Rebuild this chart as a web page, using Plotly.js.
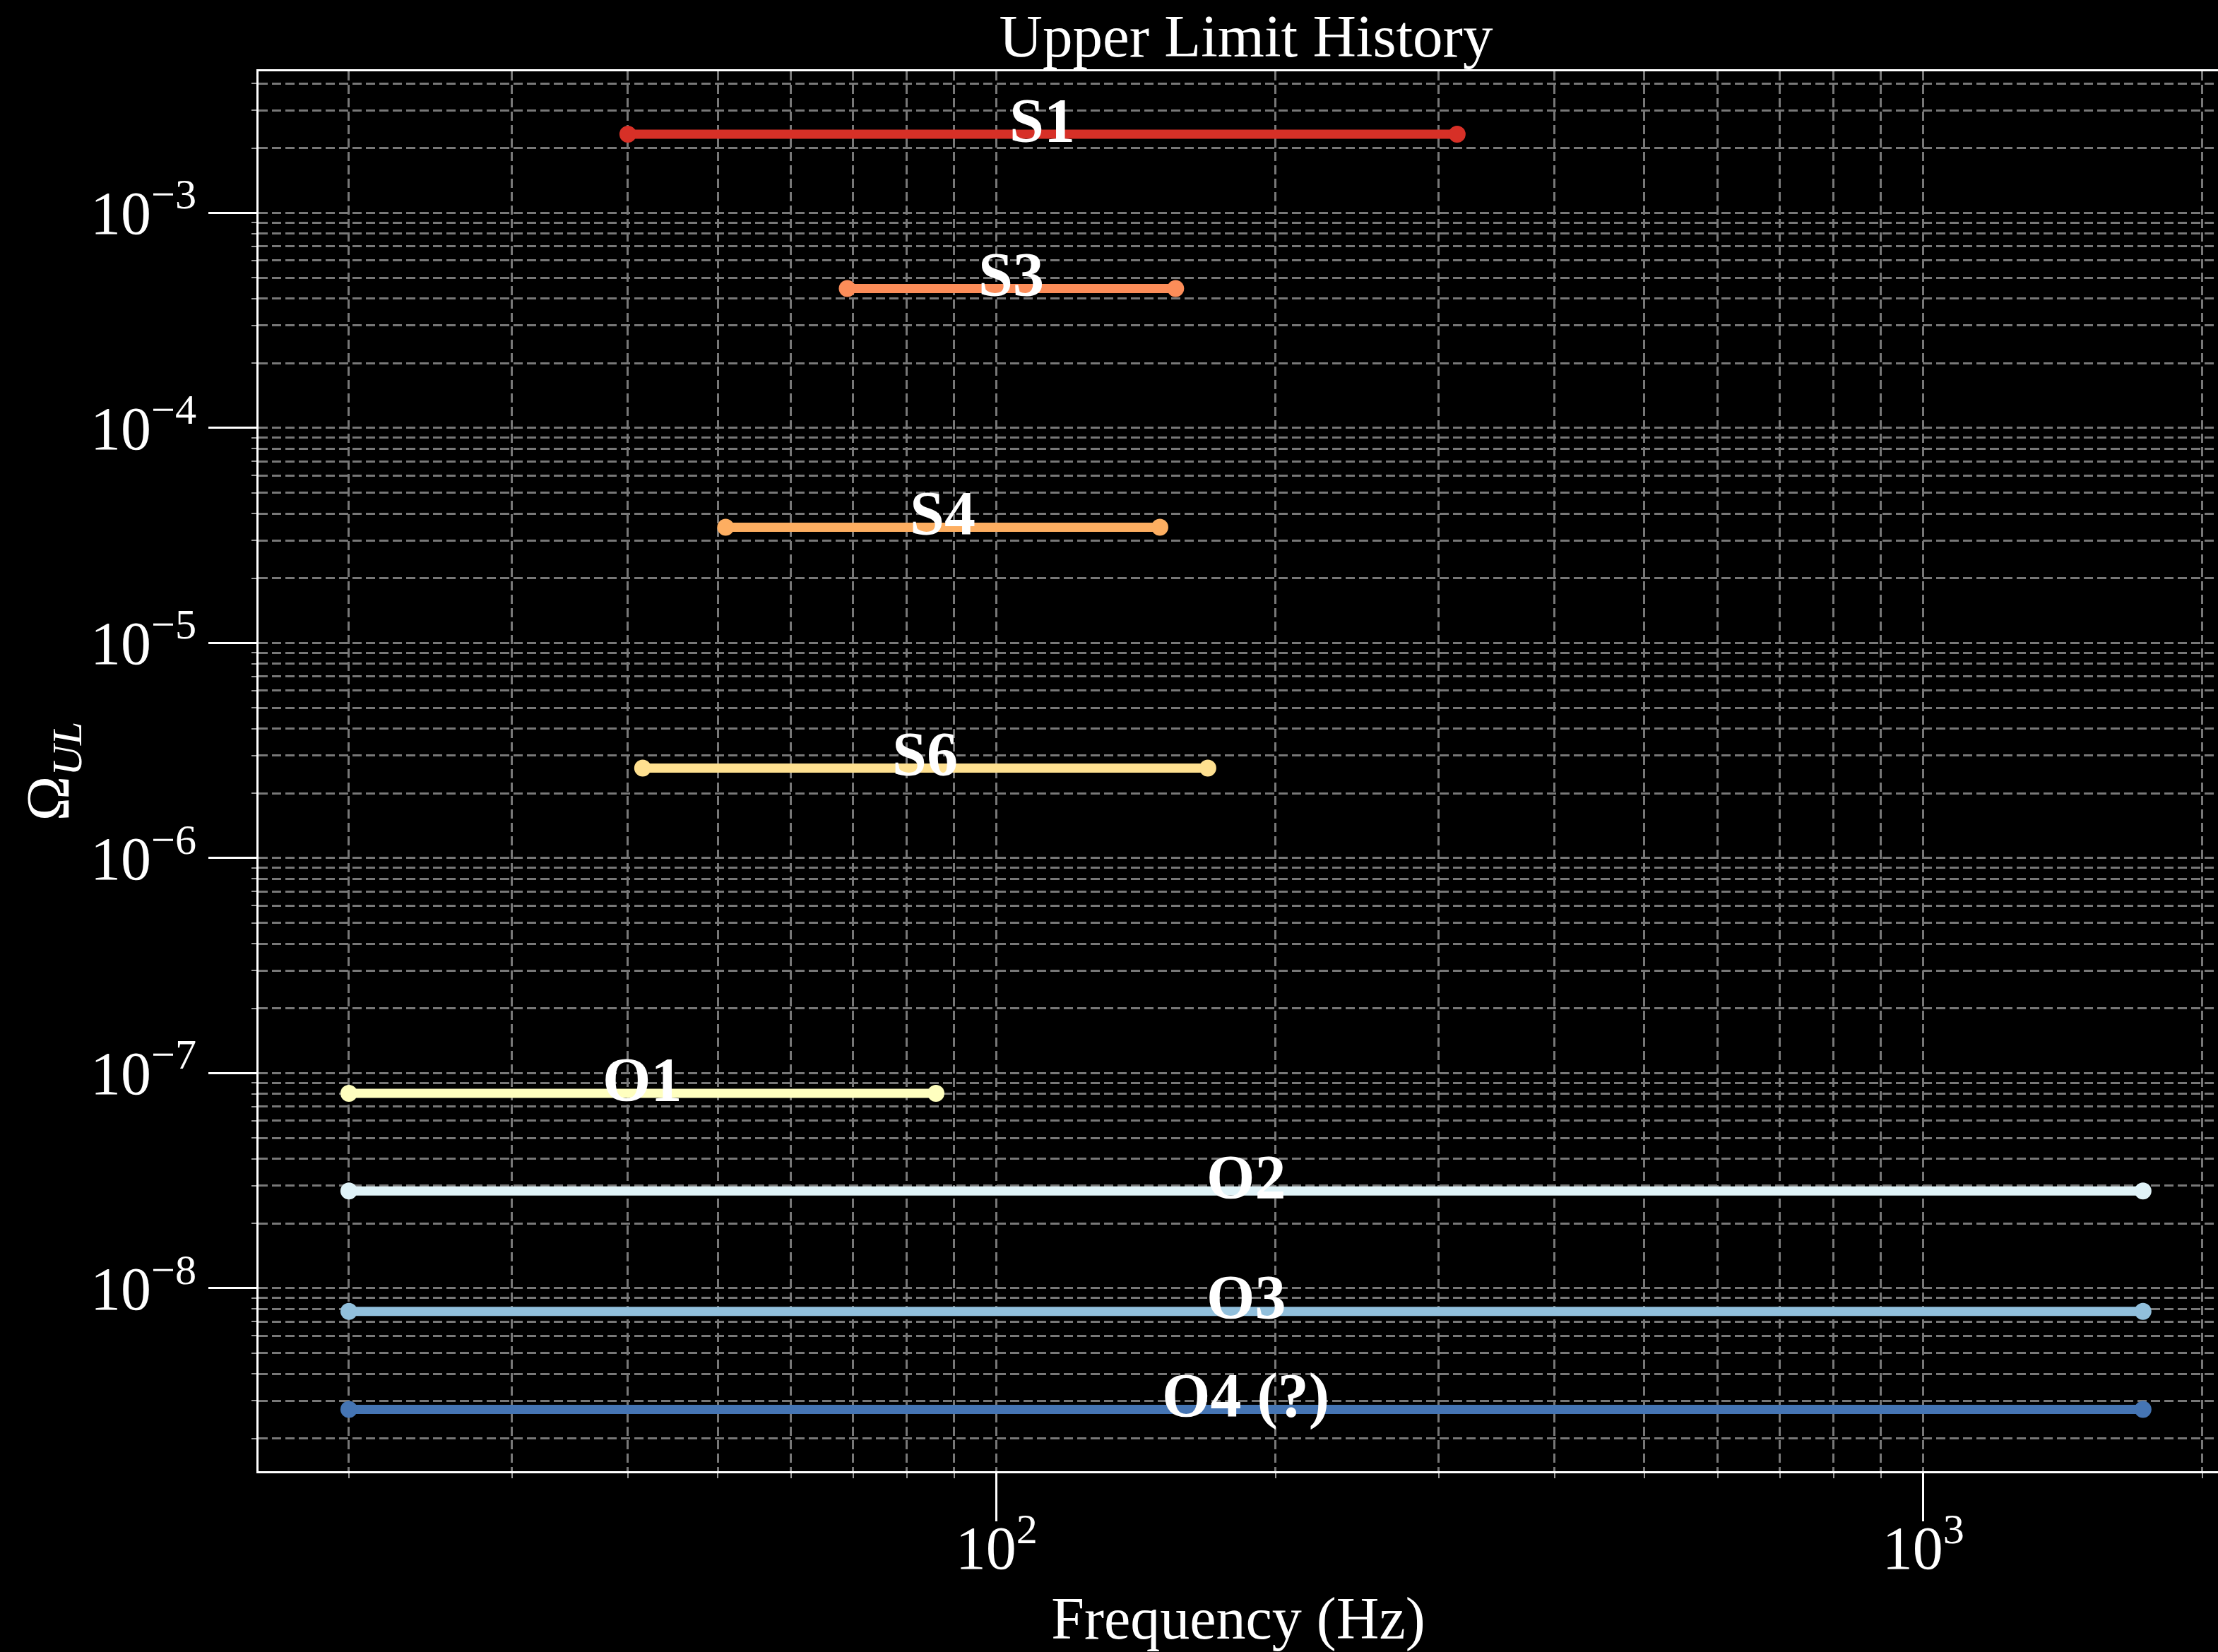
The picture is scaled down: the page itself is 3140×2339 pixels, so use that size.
<!DOCTYPE html>
<html>
<head>
<meta charset="utf-8">
<script src="https://cdn.plot.ly/plotly-3.0.1.min.js"></script>
<style>html,body{margin:0;padding:0;background:#000;}</style>
</head>
<body>
<div id="chart" style="width:3140px;height:2339px;"></div>
<script>
// ---- data ----
const runs    = ['S1', 'S3', 'S4', 'S6', 'O1', 'O2', 'O3', 'O4 (?)'];
const fLow    = [40, 69, 51, 41.5, 20, 20, 20, 20];          // Hz
const fHigh   = [314, 156, 150, 169, 86, 1726, 1726, 1726];  // Hz
const omegaUL = [2.32e-3, 4.45e-4, 3.45e-5, 2.62e-6, 8.05e-8, 2.83e-8, 7.8e-9, 2.73e-9];

const yTickVals = [1e-8, 1e-7, 1e-6, 1e-5, 1e-4, 1e-3];
const yTickText = ['10<sup>\u22128</sup>', '10<sup>\u22127</sup>', '10<sup>\u22126</sup>',
                   '10<sup>\u22125</sup>', '10<sup>\u22124</sup>', '10<sup>\u22123</sup>'];
const xTickVals = [100, 1000];
const xTickText = ['10<sup>2</sup>', '10<sup>3</sup>'];

// ---- styles ----
const runColors = ['#d73027', '#fc8d59', '#fdae61', '#fee090', '#ffffbf', '#e0f3f8', '#91bfdb', '#4575b4'];
const FONT = 'Liberation Serif, Times New Roman, serif';
const GRID = '#787878';
const DASH = '13px,6px';

// minor grid positions (2..9 x 10^n)
function minorVals(e0, e1) {
  const v = [];
  for (let e = e0; e <= e1; e++) for (let m = 2; m <= 9; m++) v.push(m * Math.pow(10, e));
  return v;
}
const xMinor = minorVals(1, 3);
const yMinor = minorVals(-9, -3);

const traces = runs.map((name, i) => ({
  type: 'scatter',
  mode: 'lines+markers',
  name: name,
  x: [fLow[i], fHigh[i]],
  y: [omegaUL[i], omegaUL[i]],
  line: {color: runColors[i], width: 13},
  marker: {color: runColors[i], size: 24, line: {width: 0}},
  hoverinfo: 'x+y+name',
  showlegend: false
}));

const annotations = runs.map((name, i) => ({
  x: Math.log10(Math.sqrt(fLow[i] * fHigh[i])),
  y: Math.log10(omegaUL[i]),
  xref: 'x', yref: 'y',
  text: '<b>' + name + '</b>',
  showarrow: false,
  xanchor: 'center', yanchor: 'middle',
  yshift: 20,
  font: {family: FONT, size: 88, color: '#ffffff'}
}));

const layout = {
  width: 3140, height: 2339,
  paper_bgcolor: '#000000', plot_bgcolor: '#000000',
  margin: {l: 366, r: 0, t: 101, b: 256, pad: 0},
  font: {family: FONT, color: '#ffffff'},
  title: {
    text: 'Upper Limit History',
    font: {family: FONT, size: 85, color: '#ffffff'},
    x: 1764 / 3140, xref: 'container', xanchor: 'center',
    y: 1 - 50 / 2339, yref: 'container', yanchor: 'middle'
  },
  xaxis: {
    type: 'log', range: [1.2035, 3.318],
    showline: true, linecolor: '#ffffff', linewidth: 2.5, mirror: true,
    ticks: 'outside', ticklen: 68, tickwidth: 2.5, tickcolor: '#ffffff',
    tickmode: 'array', tickvals: xTickVals, ticktext: xTickText,
    tickfont: {family: FONT, size: 86, color: '#ffffff'},
    ticklabelstandoff: -36,
    showgrid: true, gridcolor: GRID, gridwidth: 2.5, griddash: DASH,
    zeroline: false,
    minor: {tickmode: 'array', tickvals: xMinor, ticks: 'outside', ticklen: 7, tickwidth: 2, tickcolor: '#999999',
            showgrid: true, gridcolor: GRID, gridwidth: 2.5, griddash: DASH},
    title: {text: 'Frequency (Hz)', font: {family: FONT, size: 84, color: '#ffffff'}, standoff: 30},
    automargin: false
  },
  yaxis: {
    type: 'log', range: [-8.851, -2.342],
    showline: true, linecolor: '#ffffff', linewidth: 2.5, mirror: false,
    ticks: 'outside', ticklen: 68, tickwidth: 2.5, tickcolor: '#ffffff',
    tickmode: 'array', tickvals: yTickVals, ticktext: yTickText,
    tickfont: {family: FONT, size: 86, color: '#ffffff'},
    showgrid: true, gridcolor: GRID, gridwidth: 2.5, griddash: DASH,
    zeroline: false,
    minor: {tickmode: 'array', tickvals: yMinor, ticks: 'outside', ticklen: 7, tickwidth: 2, tickcolor: '#999999',
            showgrid: true, gridcolor: GRID, gridwidth: 2.5, griddash: DASH},
    title: {text: '\u03A9<sub><i>UL</i></sub>', font: {family: FONT, size: 86, color: '#ffffff'}, standoff: 0},
    automargin: false
  },
  annotations: annotations,
  showlegend: false
};

Plotly.newPlot('chart', traces, layout, {displayModeBar: false, staticPlot: false});
</script>
</body>
</html>
